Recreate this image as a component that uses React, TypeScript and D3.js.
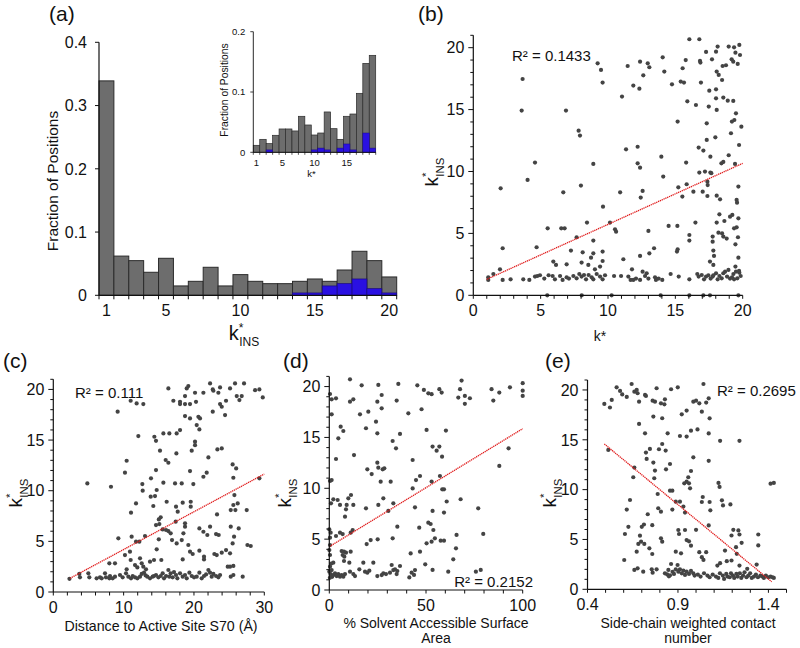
import React from 'react';
import * as d3 from 'd3';

const FONT = '"Liberation Sans", Arial, Helvetica, sans-serif';

// ---------- Panel (a): histogram of k*_INS ----------
const kBins = [1, 2, 3, 4, 5, 6, 7, 8, 9, 10, 11, 12, 13, 14, 15, 16, 17, 18, 19, 20];
const fracAll = [0.339, 0.062, 0.0548, 0.0364, 0.0585, 0.0148, 0.0221, 0.0443, 0.0148, 0.0327, 0.0221, 0.0184, 0.0184, 0.0221, 0.0258, 0.0221, 0.040, 0.0696, 0.0548, 0.029];
const fracBlue = [0, 0, 0, 0, 0, 0, 0, 0, 0, 0, 0, 0, 0, 0.0037, 0.0037, 0.0148, 0.0184, 0.0258, 0.0105, 0.0037];
const kTickLabels = [1, 5, 10, 15, 20];
const fracTicks = [0, 0.1, 0.2, 0.3, 0.4];

// ---------- Inset: histogram of k* ----------
const insetBins = [1, 2, 3, 4, 5, 6, 7, 8, 9, 10, 11, 12, 13, 14, 15, 16, 17, 18, 19];
const insetAll = [0.0116, 0.0215, 0.0144, 0.0282, 0.0387, 0.0387, 0.0354, 0.0597, 0.0453, 0.0287, 0.032, 0.0669, 0.0392, 0.0215, 0.0597, 0.0635, 0.0978, 0.1475, 0.1608];
const insetBlue = [0, 0, 0.004, 0, 0, 0, 0, 0, 0, 0.004, 0.007, 0.004, 0, 0.007, 0.0138, 0.004, 0, 0.032, 0.007];
const insetTickLabels = [1, 5, 10, 15];
const insetFracTicks = [0, 0.1, 0.2];

// ---------- Panel (b): k*_INS vs k* ----------
const ptsB: [number, number][] = [
  [9.23,18.74],[9.48,18.2],[9.6,17.18],[11.46,18.52],[11.04,16.05],[11.88,16.94],[12.38,18.87],[12.62,17.77],[12.33,16.69],[12.95,18.74],
  [13.07,18.42],[14.06,19.22],[14.18,18.07],[14.75,17.04],[15.77,19.0],[15.54,18.34],[15.4,17.26],[15.64,17.18],[16.04,20.68],[16.78,20.68],
  [16.83,18.93],[16.86,18.8],[16.9,17.18],[15.89,15.67],[16.53,15.37],[17.48,15.24],[17.72,19.06],[17.28,19.66],[17.52,16.53],[18.02,19.68],
  [18.14,20.09],[18.07,18.07],[18.22,17.8],[18.02,16.64],[18.02,15.91],[18.47,17.39],[18.56,15.97],[18.51,18.52],[18.76,18.58],[18.96,20.09],
  [19.18,19.06],[19.3,18.87],[19.46,19.6],[19.36,20.03],[19.75,20.22],[19.8,19.41],[19.63,18.69],[18.89,15.72],[19.3,15.7],[19.5,14.7],
  [19.38,14.16],[19.2,14.03],[19.13,13.09],[19.9,13.62],[19.73,12.14],[18.07,14.97],[17.33,13.89],[17.33,12.55],[17.97,12.76],[15.17,14.03],
  [16.73,11.93],[17.08,11.69],[17.6,11.2],[16.78,9.91],[17.2,9.99],[15.8,10.72],[18.42,10.66],[18.56,10.77],[18.96,11.31],[19.43,10.61],
  [17.6,9.91],[17.67,9.86],[13.96,11.2],[12.2,10.66],[12.38,10.31],[14.1,9.59],[11.34,11.79],[12.2,12.0],[17.38,9.18],[17.4,8.9],
  [15.84,8.97],[15.22,8.72],[12.57,8.43],[12.43,7.89],[10.9,8.32],[17.03,8.37],[17.38,8.02],[18.07,8.05],[18.32,7.75],[19.68,8.78],
  [19.55,7.7],[19.58,7.48],[18.27,6.54],[18.64,6.0],[19.06,6.35],[19.23,6.49],[19.68,6.22],[16.34,8.37],[15.52,7.97],[9.63,7.16],
  [10.15,5.87],[10.52,5.33],[10.6,5.14],[8.44,5.87],[14.5,5.6],[15.15,5.6],[13.0,5.2],[16.49,5.87],[16.04,4.87],[16.04,4.42],
  [18.07,5.87],[18.2,5.06],[18.47,5.0],[17.77,4.74],[17.77,4.33],[18.56,4.74],[18.81,4.58],[19.36,5.41],[19.55,5.49],[19.65,4.69],
  [19.46,4.12],[17.82,3.61],[17.87,3.18],[17.82,2.45],[17.57,2.72],[19.68,3.04],[19.46,2.32],[19.73,1.97],[15.17,3.72],[15.12,3.53],
  [13.42,3.8],[13.07,3.39],[12.38,3.18],[11.14,2.91],[9.6,3.53],[8.91,3.39],[8.74,3.04],[8.91,4.42],[8.12,3.47],[7.67,4.69],
  [7.25,3.61],[4.7,3.88],[2.18,3.8],[1.98,2.1],[2.03,8.64],[4.03,9.32],[4.58,10.72],[3.66,17.47],[3.59,14.92],[6.88,14.92],
  [7.82,13.3],[7.92,12.9],[7.99,8.86],[6.68,8.32],[8.91,10.61],[5.52,5.41],[6.53,5.41],[6.78,5.41],[5.94,2.72],[6.14,2.45],
  [6.93,2.5],[8.04,2.64],[8.54,2.45],[9.6,2.77],[9.41,2.32],[9.03,2.1],[11.78,2.1],[11.88,1.24],
  [1.11,1.24],[1.11,1.45],[1.49,1.72],[2.18,1.24],[2.77,1.29],[3.71,1.29],[4.16,1.24],[4.58,1.51],[4.75,1.56],[4.95,1.62],
  [5.27,1.35],[5.59,1.62],[5.89,1.56],[6.06,1.29],[6.44,1.56],[6.63,1.24],[6.93,1.45],[7.1,1.35],[7.43,1.56],[7.67,1.37],
  [7.87,1.72],[8.04,1.51],[8.22,1.64],[8.37,1.29],[8.56,1.64],[8.79,1.45],[8.91,1.29],[9.16,1.72],[9.41,1.51],[9.6,1.29],
  [9.78,1.62],[10.45,1.56],[10.97,1.56],[11.51,1.51],[11.68,1.24],[12.08,1.35],[12.38,1.24],[12.57,1.91],[12.75,1.56],[12.87,1.78],
  [13.0,1.35],[13.49,1.45],[13.56,1.24],[13.76,1.35],[14.03,1.24],[14.65,1.72],[15.25,1.51],[16.04,1.29],[16.63,1.72],[16.73,1.51],
  [16.96,1.64],[17.13,1.29],[17.28,1.51],[17.45,1.62],[17.62,1.35],[17.77,1.51],[18.14,1.29],[18.27,1.56],[18.44,1.37],[18.56,1.78],
  [18.69,1.91],[18.84,1.51],[18.94,2.05],[19.06,1.35],[19.21,1.45],[19.31,1.72],[19.5,1.91],[19.6,1.37],[19.75,1.83],[19.85,1.56],
  [19.36,1.29],[18.02,1.78],[17.82,1.62],
  [5.49,0],[8.05,0],[10.27,0],[13.91,0],[16.04,0],[17.08,0],[17.57,0],[19.68,0]
];
const trendB: [number, number][] = [[1.0, 1.29], [20, 10.66]];

// ---------- Panel (c): distance to active site ----------
const ptsC: [number, number][] = [
  [9.15,17.8],[11.0,18.88],[11.85,18.62],[12.8,18.55],[12.09,15.39],[16.36,20.1],[17.07,18.88],[18.02,18.78],[18.02,18.55],[18.73,18.55],
  [18.97,20.1],[19.2,20.33],[20.15,19.67],[18.73,19.34],[18.73,17.37],[19.44,17.14],[19.44,18.55],[20.29,18.78],[20.63,17.3],[20.86,17.14],
  [21.34,19.67],[22.29,20.59],[22.67,20.0],[22.76,19.87],[23.47,19.67],[23.71,20.2],[22.67,17.8],[23.95,18.29],[23.71,18.55],[24.56,18.88],
  [24.42,17.47],[25.13,20.1],[25.84,20.59],[26.08,19.34],[26.46,18.95],[26.79,19.34],[27.12,20.59],[28.69,19.93],[29.3,20.0],[29.78,19.21],
  [20.39,16.48],[20.77,16.05],[20.15,14.84],[20.15,14.5],[14.37,15.33],[14.6,14.93],[15.65,15.66],[16.5,15.66],[17.54,15.66],[18.02,15.99],
  [15.17,13.95],[15.98,13.03],[16.36,12.76],[17.5,13.68],[19.68,13.95],[22.05,13.29],[23.33,14.08],[23.95,14.18],[25.5,12.6],[26.0,12.2],
  [21.81,11.78],[21.34,11.38],[19.44,11.94],[19.91,10.66],[18.26,10.72],[17.31,10.72],[15.65,10.79],[14.6,12.04],[13.89,11.22],[14.7,10.07],
  [14.46,9.47],[14.22,8.49],[16.12,8.91],[13.85,9.41],[12.66,10.66],[12.71,10.0],[11.76,8.75],[11.05,7.83],[10.19,11.78],[10.43,12.96],
  [8.2,10.39],[4.84,10.72],[9.25,5.3],[11.14,5.46],[11.76,4.97],[12.23,4.97],[13.04,5.53],[10.9,3.98],[12.33,3.32],[11.0,3.16],
  [12.57,2.83],[13.75,2.99],[14.32,3.16],[15.36,3.16],[14.7,4.21],[15.0,5.2],[14.6,6.61],[15.0,7.17],[16.03,6.12],[16.36,6.02],
  [16.69,5.79],[16.88,5.13],[17.54,4.8],[17.4,6.94],[17.45,8.42],[17.69,7.93],[18.4,8.82],[18.73,6.45],[18.5,5.79],[18.73,6.78],
  [18.26,5.13],[19.2,4.64],[19.44,3.98],[19.82,3.75],[19.54,8.91],[19.54,8.42],[18.4,3.22],[20.77,6.28],[21.34,5.95],[21.9,5.63],
  [20.77,4.08],[21.43,3.22],[21.43,3.49],[22.29,6.45],[23.14,5.72],[23.52,5.63],[23.28,7.66],[22.9,3.75],[23.24,3.65],[23.95,3.88],
  [24.56,4.14],[25.13,3.82],[24.8,2.5],[25.13,2.5],[25.6,2.57],[25.23,6.45],[25.7,5.46],[25.5,4.8],[25.89,8.09],[26.22,8.75],
  [25.23,8.09],[25.6,8.59],[25.75,9.57],[26.36,6.28],[27.5,8.09],[27.6,4.64],[28.07,4.54],[25.6,11.28],[29.3,11.22],[15.27,7.37],
  [15.08,6.71],[15.55,6.18],[10.19,3.65],[8.77,2.83],[7.97,2.83],[11.62,2.66],[11.95,2.43],[12.8,2.5],[13.18,2.24],[10.43,2.24],
  [7.97,1.35],[2.3,1.3],
  [4.98,1.84],[5.12,1.45],[6.16,1.35],[6.64,1.45],[6.88,1.35],[7.35,1.84],[7.49,1.45],[8.06,1.58],[8.44,1.35],[8.77,1.51],
  [9.48,1.68],[9.86,1.45],[10.34,1.84],[10.67,1.51],[11.05,1.35],[11.29,1.58],[11.62,1.45],[11.95,1.35],[12.33,1.51],[12.57,1.78],
  [12.9,1.91],[13.13,1.64],[13.37,1.51],[13.75,1.35],[14.13,1.51],[14.32,1.58],[14.6,1.68],[14.94,1.45],[15.27,1.58],[15.55,1.84],
  [15.74,1.35],[16.03,1.58],[16.36,2.17],[16.5,1.51],[16.69,1.84],[16.97,1.45],[17.16,1.97],[17.45,1.68],[17.64,1.35],[18.02,1.84],
  [18.4,1.51],[18.73,1.68],[18.97,1.35],[19.35,1.91],[19.68,1.58],[20.01,1.45],[20.39,1.51],[20.77,1.91],[21.1,1.35],[21.43,1.58],
  [21.72,1.74],[22.05,2.17],[22.29,1.91],[22.52,1.51],[22.76,1.78],[23.14,1.58],[23.47,1.45],[23.71,1.68],[25.23,1.51],[25.6,1.68],
  [26.93,1.51],[3.7,1.78],[3.79,1.45]
];
const trendC: [number, number][] = [[2.37, 1.35], [30, 11.65]];

// ---------- Panel (d): % solvent accessible surface area ----------
const ptsD: [number, number][] = [
  [10.7,20.71],[16.73,20.12],[25.35,20.16],[35.69,20.26],[45.52,20.12],
  [0.36,19.27],[1.22,18.75],[3.46,18.84],[10.7,18.52],[12.42,18.75],[24.84,18.52],[27.08,19.17],[34.83,18.62],
  [1.22,17.27],[15.87,17.27],[20.18,17.53],[27.08,17.86],[40.86,17.37],
  [24.15,16.55],[5.88,16.06],[7.26,15.63],[18.97,15.9],[24.84,15.4],[36.55,15.34],
  [4.67,14.91],[32.76,14.65],[34.49,13.93],
  [3.46,12.88],[12.77,13.27],[24.84,12.52],[25.35,12.03],[27.59,11.86],[28.45,11.96],[19.66,11.86],[43.1,12.78],
  [21.91,11.4],[46.9,11.21],[44.83,10.81],[26.56,10.65],[31.73,10.65],[0.36,10.72],[1.22,10.81],
  [43.1,9.99],[11.22,9.34],[9.84,9.01],[2.08,8.91],[4.32,8.85],[12.42,8.36],[5.53,8.36],[0.88,8.52],[8.98,8.36],
  [18.97,8.03],[25.35,8.36],[30.52,7.77],[27.94,9.01],[33.11,8.52],[8.63,7.93],[44.3,8.13],
  [8.12,7.21],[35.18,6.23],[12.08,5.9],[0.02,5.96],[46.5,6.13],
  [0.7,5.64],[5.53,5.64],[6.91,5.5],[11.05,5.64],[3.46,5.31],[0.36,5.14],[25.01,4.98],[32.76,5.08],[21.39,4.91],[19.32,4.52],[0.36,4.42],
  [0.02,3.93],[6.39,3.83],[7.6,3.77],[8.63,3.67],[11.05,3.77],[6.91,3.44],[7.77,3.28],[0.36,3.44],[42.07,3.6],[46.9,3.77],
  [7.6,2.85],[10.36,2.69],[2.08,2.69],[17.6,2.69],[22.77,2.69],
  [0.36,2.29],[1.22,1.96],[0.02,1.8],[0.7,1.57],[2.08,1.47],[2.95,1.64],[3.81,1.37],[4.67,1.57],[5.53,1.31],[6.39,1.47],
  [7.26,1.31],[8.12,1.57],[10.7,1.8],[12.42,1.57],[13.29,1.37],[15.53,2.03],[18.46,1.8],[19.66,1.7],[20.7,1.9],[24.84,1.37],
  [27.08,1.47],[27.94,1.64],[29.32,1.57],[31.38,1.7],[32.25,2.46],[33.11,1.96],[33.97,2.03],[35.18,1.87],[36.55,2.36],[34.83,1.57],
  [41.38,1.24],[42.58,1.7],[44.31,1.96],[43.8,1.48],[1.5,1.3],[0.3,1.2],[1.0,2.6],
  [47.7,17.77],[48.9,19.67],[51.2,19.34],[52.9,19.25],[56.9,19.74],[58.1,19.41],[67.6,19.74],[68.4,20.59],[66.7,18.92],[70.1,19.08],
  [70.1,18.3],[72.7,18.85],[83.9,19.74],[84.8,18.62],[87.9,19.41],[93.4,19.93],[100,20.33],[100,19.6],[100,19.08],[50.3,15.74],
  [53.4,14.1],[55.5,13.7],[56.9,14.1],[58.3,13.11],[60.3,15.67],[57.2,11.21],[58.4,9.9],[59.3,9.9],[52.9,10.66],[60.7,8.7],
  [67.9,8.92],[59.3,7.61],[53.4,7.77],[51.2,6.62],[52.4,6.49],[53.8,5.9],[54.6,5.08],[52.9,4.75],[50.3,4.59],[57.6,4.85],
  [59.3,4.85],[65.8,5.41],[65.5,4.1],[64.1,3.02],[79.6,5.51],[77.0,8.03],[87.9,12.2],[92.7,13.93],[49.6,2.52],[53.4,1.97],
  [61.5,1.8],[75.8,1.8],[78.3,1.97]
];
const trendD: [number, number][] = [[0, 4.26], [100, 15.86]];

// ---------- Panel (e): side-chain weighted contact number ----------
const ptsE: [number, number][] = [
  [0.644,20.6],[0.561,20.27],[0.58,19.9],[0.592,19.55],[0.534,19.0],[0.493,18.6],[0.524,18.24],[0.617,19.3],[0.659,19.83],[0.672,20.0],
  [0.677,19.67],[0.718,19.5],[0.723,19.4],[0.685,18.83],[0.76,18.93],[0.773,18.83],[0.782,20.17],[0.806,18.66],[0.828,19.06],[0.825,18.56],
  [0.862,20.07],[0.899,20.27],[0.985,18.83],[0.921,17.56],[0.948,17.93],[0.764,17.33],[0.813,17.16],[0.685,16.59],[0.718,15.65],[0.843,15.65],
  [0.911,15.38],[0.948,15.32],[0.972,15.92],[0.515,13.98],[0.813,14.58],[0.795,14.05],[0.745,14.08],[0.723,13.72],[0.832,13.92],[0.727,13.08],
  [0.764,12.71],[0.659,12.21],[0.653,11.24],[0.773,11.91],[0.769,11.14],[0.834,12.04],[0.856,12.57],[0.985,13.24],[0.972,11.87],[0.935,10.63],
  [0.948,10.8],[0.961,10.63],[0.967,10.13],[0.957,11.24],[0.856,9.9],[0.869,9.9],[0.788,9.56],[0.635,8.96],[0.888,8.79],[0.911,8.79],
  [0.93,8.3],[0.939,7.7],[0.617,8.0],[0.791,8.13],[0.806,7.79],[0.869,8.0],[0.733,7.53],[0.626,6.27],[0.7,6.27],[0.712,6.5],
  [0.758,6.43],[0.607,5.55],[0.69,5.38],[0.681,4.55],[0.672,3.78],[0.696,4.78],[0.714,4.55],[0.742,4.11],[0.758,3.54],[0.806,5.11],
  [0.813,4.78],[0.902,5.95],[0.906,5.55],[0.939,5.95],[0.948,4.94],[0.961,4.81],[0.972,4.38],[0.888,3.78],[0.917,3.61],[0.603,2.94],
  [0.659,1.94],[0.677,2.1],[0.708,1.77],[0.755,2.0],[0.76,1.67],[0.782,2.0],[0.828,1.6],[0.847,1.94],[0.862,2.54],[0.878,1.54],
  [0.888,2.0],[0.898,2.44],[0.902,1.77],[0.911,2.0],[0.921,1.6],[0.93,1.87],[0.939,1.44],[0.948,1.77],[0.961,1.54],[0.972,1.84],
  [0.985,1.6],[0.84,1.5],[0.856,1.4],[0.87,1.75],[0.85,1.3],
  [1.0,18.93],[1.018,18.66],[1.041,20.6],[1.056,18.73],[1.07,19.16],[1.075,17.15],[1.032,17.82],[1.008,16.04],[1.07,15.64],[1.133,14.9],
  [1.24,14.9],[1.07,12.89],[1.037,9.26],[1.032,8.76],[1.075,8.76],[1.079,7.92],[1.124,10.67],[1.13,10.27],[1.143,8.93],[1.149,8.42],
  [1.19,8.52],[1.412,10.6],[1.43,10.67],[1.018,3.72],[1.032,3.22],[1.041,2.95],[1.056,3.72],[1.0,5.97],[1.07,6.41],[1.206,5.97],
  [1.196,5.4],[1.234,5.91],[1.24,5.5],[1.221,4.23],[1.252,4.66],[1.16,3.89],[1.225,3.56],[1.196,2.89],[1.17,2.82],[1.133,2.62],
  [1.118,2.38],[1.24,2.38],[1.344,5.5],[1.344,4.4],[1.335,2.48],
  [0.992,1.38],[1.01,1.48],[1.025,1.28],[1.044,1.61],[1.063,1.38],[1.075,1.21],[1.092,1.48],[1.11,1.28],[1.123,1.14],[1.132,1.61],
  [1.148,1.38],[1.155,1.04],[1.167,1.54],[1.174,1.28],[1.186,1.21],[1.193,1.61],[1.204,1.38],[1.211,1.14],[1.223,1.54],[1.23,1.28],
  [1.242,1.61],[1.25,1.14],[1.26,1.38],[1.268,1.71],[1.279,1.21],[1.289,1.38],[1.299,1.61],[1.308,1.14],[1.32,1.28],[1.331,1.48],
  [1.342,1.21],[1.356,1.38],[1.367,1.28],[1.375,1.14],[1.386,1.38],[1.4,1.21],[1.412,1.28],[1.423,1.21],[1.43,1.14],[1.283,2.05]
];
const trendE: [number, number][] = [[0.493, 14.58], [1.418, 0.76]];

const r2Labels = ['R² = 0.1433', 'R² = 0.111', 'R² = 0.2152', 'R² = 0.2695'];
const xTitleB = ['k*'];
const xTitleC = ['Distance to Active Site S70 (Å)'];
const xTitleD = ['% Solvent Accessible Surface', 'Area'];
const xTitleE = ['Side-chain weighted contact', 'number'];
const yTicksScatter = [0, 5, 10, 15, 20];

const INK = '#111';
const GREY = '#6d6d6d';
const BLUE = '#2a10e2';
const DOT = '#444';
const RED = '#e01b1b';

function KIns({ x, y, size, rotate }: { x: number; y: number; size: number; rotate?: boolean }) {
  return (
    <text x={x} y={y} fontSize={size} textAnchor="middle" fill={INK}
      transform={rotate ? `rotate(-90 ${x} ${y})` : undefined}>
      k
      <tspan fontSize={size * 0.6} dy={-size * 0.42}>*</tspan>
      <tspan fontSize={size * 0.6} dx={-size * 0.22} dy={size * 0.72}>INS</tspan>
    </text>
  );
}

function Histogram({ bins, all, blue, x, y, sw }: any) {
  return (
    <g>
      {bins.map((b: number, i: number) => (
        <rect key={'g' + b} x={x(b - 0.5)} width={x(b + 0.5) - x(b - 0.5)} y={y(all[i])}
          height={y(0) - y(all[i])} fill={GREY} stroke="#2b2b2b" strokeWidth={sw} />
      ))}
      {bins.map((b: number, i: number) => blue[i] > 0 ? (
        <rect key={'b' + b} x={x(b - 0.5)} width={x(b + 0.5) - x(b - 0.5)} y={y(blue[i])}
          height={y(0) - y(blue[i])} fill={BLUE} stroke="#1a0a80" strokeWidth={sw * 0.7} />
      ) : null)}
    </g>
  );
}

function PanelA() {
  const x = d3.scaleLinear().domain([0.5, 20.5]).range([99, 396.7]);
  const y = d3.scaleLinear().domain([0, 0.4]).range([295.3, 42.3]);
  const edges = d3.range(0.5, 21, 1);
  return (
    <g>
      <text x={49} y={21} fontSize={21} fill={INK}>(a)</text>
      <Histogram bins={kBins} all={fracAll} blue={fracBlue} x={x} y={y} sw={1} />
      <line x1={x(0.5)} x2={x(0.5)} y1={y(0)} y2={y(0.4)} stroke={INK} strokeWidth={1.2} />
      <line x1={x(0.5)} x2={x(20.5)} y1={y(0)} y2={y(0)} stroke={INK} strokeWidth={1.2} />
      {fracTicks.map(t => (
        <g key={t}>
          <line x1={x(0.5) - 4} x2={x(0.5)} y1={y(t)} y2={y(t)} stroke={INK} />
          <text x={x(0.5) - 12} y={y(t)} dy="0.36em" textAnchor="end" fontSize={16} fill={INK}>{t === 0 ? '0' : t.toFixed(1)}</text>
        </g>
      ))}
      {edges.map(e => <line key={e} x1={x(e)} x2={x(e)} y1={y(0)} y2={y(0) + 4} stroke={INK} />)}
      {kTickLabels.map(t => (
        <text key={t} x={x(t)} y={y(0) + 21} textAnchor="middle" fontSize={16} fill={INK}>{t}</text>
      ))}
      <text x={58} y={181} fontSize={15.5} textAnchor="middle" fill={INK} transform="rotate(-90 58 181)">Fraction of Positions</text>
      <KIns x={244} y={340} size={20} />
    </g>
  );
}

function Inset() {
  const x = d3.scaleLinear().domain([0.5, 19.5]).range([253.3, 375.7]);
  const y = d3.scaleLinear().domain([0, 0.2]).range([152.3, 31.7]);
  const edges = d3.range(0.5, 20, 1);
  return (
    <g>
      <Histogram bins={insetBins} all={insetAll} blue={insetBlue} x={x} y={y} sw={0.7} />
      <line x1={x(0.5)} x2={x(0.5)} y1={y(0)} y2={y(0.2)} stroke={INK} strokeWidth={0.9} />
      <line x1={x(0.5)} x2={x(19.5)} y1={y(0)} y2={y(0)} stroke={INK} strokeWidth={0.9} />
      {insetFracTicks.map(t => (
        <g key={t}>
          <line x1={x(0.5) - 3} x2={x(0.5)} y1={y(t)} y2={y(t)} stroke={INK} strokeWidth={0.8} />
          <text x={x(0.5) - 8} y={y(t)} dy="0.36em" textAnchor="end" fontSize={9.5} fill={INK}>{t === 0 ? '0' : t.toFixed(1)}</text>
        </g>
      ))}
      {edges.map(e => <line key={e} x1={x(e)} x2={x(e)} y1={y(0)} y2={y(0) + 2.5} stroke={INK} strokeWidth={0.7} />)}
      {insetTickLabels.map(t => (
        <text key={t} x={x(t)} y={166} textAnchor="middle" fontSize={9.5} fill={INK}>{t}</text>
      ))}
      <text x={311.5} y={177} textAnchor="middle" fontSize={9.5} fill={INK}>k*</text>
      <text x={228} y={90} fontSize={10.3} textAnchor="middle" fill={INK} transform="rotate(-90 228 90)">Fraction of Positions</text>
    </g>
  );
}

type ScatterCfg = {
  id: string;
  label: string; labelX: number; labelY: number;
  xDomain: [number, number]; xRange: [number, number]; xAxisEnd: number;
  yRange: [number, number];
  xTicks: number[]; xTickLabels: number[]; xFmt: (v: number) => string;
  pts: [number, number][]; trend: [number, number][];
  r2: string; r2X: number; r2Y: number; r2Anchor: 'start' | 'end';
  yTitleX: number; yTitleY: number;
  xTitle: string[]; xTitleX: number; xTitleY: number; xTitleSize: number; xTitleGap: number;
};

function Scatter({ c }: { c: ScatterCfg }) {
  const x = d3.scaleLinear().domain(c.xDomain).range(c.xRange);
  const y = d3.scaleLinear().domain([0, 21]).range(c.yRange);
  const x0 = c.xRange[0];
  const line = d3.line<[number, number]>().x(d => x(d[0])).y(d => y(d[1]));
  return (
    <g>
      <text x={c.labelX} y={c.labelY} fontSize={21} fill={INK}>{c.label}</text>
      {c.pts.map((p, i) => <circle key={i} cx={x(p[0])} cy={y(p[1])} r={2.1} fill={DOT} />)}
      <path d={line(c.trend) || ''} stroke={RED} strokeWidth={1.3} strokeDasharray="1.3 0.7" fill="none" />
      <line x1={x0} x2={x0} y1={y(0)} y2={y(21)} stroke={INK} strokeWidth={1.2} />
      <line x1={x0} x2={c.xAxisEnd} y1={y(0)} y2={y(0)} stroke={INK} strokeWidth={1.2} />
      {d3.range(0, 22).map(t => (
        <line key={t} x1={x0 - (t % 5 === 0 ? 5 : 3)} x2={x0} y1={y(t)} y2={y(t)} stroke={INK} strokeWidth={1} />
      ))}
      {yTicksScatter.map(t => (
        <text key={t} x={x0 - 9} y={y(t)} dy="0.36em" textAnchor="end" fontSize={16} fill={INK}>{t}</text>
      ))}
      {c.xTicks.map(t => <line key={t} x1={x(t)} x2={x(t)} y1={y(0)} y2={y(0) + 3.5} stroke={INK} />)}
      {c.xTickLabels.map(t => (
        <text key={t} x={x(t)} y={y(0) + 21} textAnchor="middle" fontSize={16} fill={INK}>{c.xFmt(t)}</text>
      ))}
      <text x={c.r2X} y={c.r2Y} fontSize={15} textAnchor={c.r2Anchor} fill={INK}>{c.r2}</text>
      <KIns x={c.yTitleX} y={c.yTitleY} size={19} rotate />
      {c.xTitle.map((t, i) => (
        <text key={t} x={c.xTitleX} y={c.xTitleY + i * c.xTitleGap} textAnchor="middle" fontSize={c.xTitleSize} fill={INK}>{t}</text>
      ))}
    </g>
  );
}

const intFmt = (v: number) => String(v);
const decFmt = d3.format('.1f');
const eTicks = d3.range(4, 16).map(v => v / 10);

const panels: ScatterCfg[] = [
  {
    id: 'b', label: '(b)', labelX: 418, labelY: 21,
    xDomain: [0, 20], xRange: [473.3, 742.7], xAxisEnd: 742.7, yRange: [295.3, 35.3],
    xTicks: d3.range(0, 21, 1), xTickLabels: [0, 5, 10, 15, 20], xFmt: intFmt,
    pts: ptsB, trend: trendB, r2: r2Labels[0], r2X: 512, r2Y: 61, r2Anchor: 'start',
    yTitleX: 438, yTitleY: 172, xTitle: xTitleB, xTitleX: 600, xTitleY: 341, xTitleSize: 14, xTitleGap: 0,
  },
  {
    id: 'c', label: '(c)', labelX: 3, labelY: 368,
    xDomain: [0, 30], xRange: [53.3, 264.3], xAxisEnd: 264.3, yRange: [592, 379.3],
    xTicks: d3.range(0, 31, 2), xTickLabels: [0, 10, 20, 30], xFmt: intFmt,
    pts: ptsC, trend: trendC, r2: r2Labels[1], r2X: 75, r2Y: 398, r2Anchor: 'start',
    yTitleX: 22, yTitleY: 493, xTitle: xTitleC, xTitleX: 161, xTitleY: 631, xTitleSize: 14.2, xTitleGap: 0,
  },
  {
    id: 'd', label: '(d)', labelX: 283, labelY: 368,
    xDomain: [0, 100], xRange: [329.3, 522.7], xAxisEnd: 522.7, yRange: [590, 376.4],
    xTicks: d3.range(0, 101, 10), xTickLabels: [0, 50, 100], xFmt: intFmt,
    pts: ptsD, trend: trendD, r2: r2Labels[2], r2X: 533, r2Y: 587, r2Anchor: 'end',
    yTitleX: 291, yTitleY: 493, xTitle: xTitleD, xTitleX: 436, xTitleY: 628, xTitleSize: 14, xTitleGap: 14.5,
  },
  {
    id: 'e', label: '(e)', labelX: 545, labelY: 368,
    xDomain: [0.4, 1.5], xRange: [587.5, 786.5], xAxisEnd: 786.5, yRange: [589.3, 380.0],
    xTicks: eTicks, xTickLabels: [0.4, 0.9, 1.4], xFmt: decFmt,
    pts: ptsE, trend: trendE, r2: r2Labels[3], r2X: 717, r2Y: 396, r2Anchor: 'start',
    yTitleX: 556, yTitleY: 493, xTitle: xTitleE, xTitleX: 688, xTitleY: 628, xTitleSize: 14, xTitleGap: 14.5,
  },
];

export default function App() {
  return (
    <svg width={800} height={648} viewBox="0 0 800 648"
      style={{ position: 'absolute', left: 0, top: 0, background: '#fff', display: 'block' }}
      fontFamily={FONT}>
      <rect x={0} y={0} width={800} height={648} fill="#fff" />
      <PanelA />
      <Inset />
      {panels.map(p => <Scatter key={p.id} c={p} />)}
    </svg>
  );
}
